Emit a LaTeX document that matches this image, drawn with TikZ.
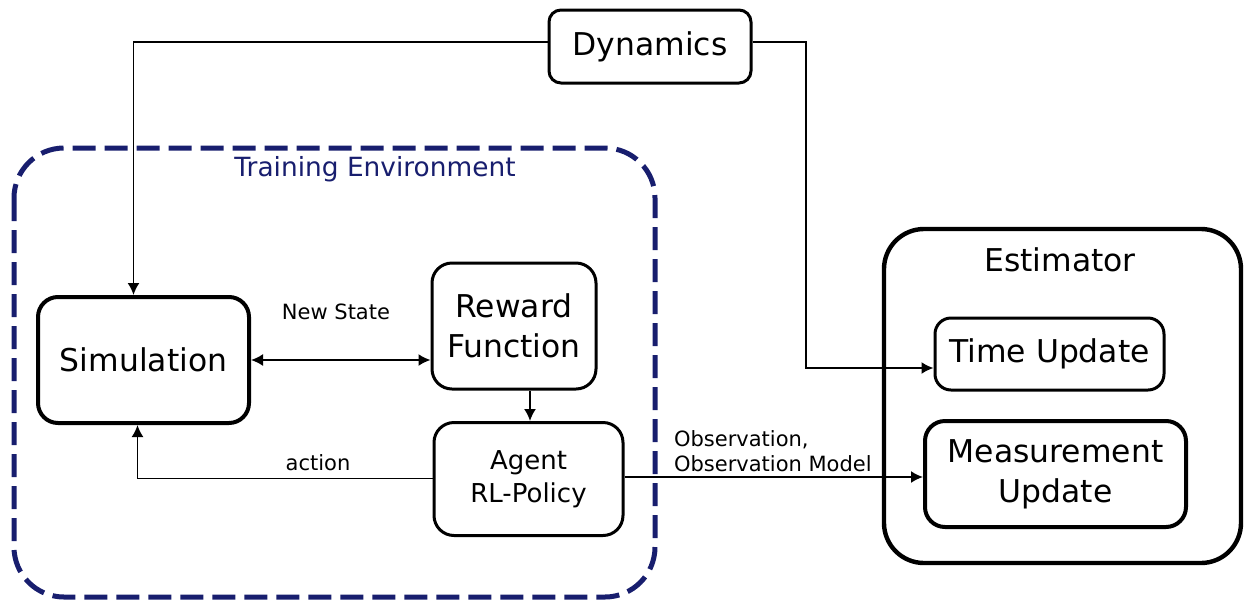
\documentclass[tikz,border=0pt]{standalone}
\usepackage{fontspec}
\setmainfont{DejaVu Sans}
\usetikzlibrary{arrows.meta}
\definecolor{envblue}{RGB}{24,30,110}
\begin{document}
\begin{tikzpicture}[x=0.5pt,y=-0.5pt,
		box/.style={draw,rounded corners=#1,align=center,font=\fontsize{15.7}{20}\selectfont},
		box/.default=10pt,
		small/.style={font=\fontsize{10.5}{12.5}\selectfont},
		arr/.style={-{Latex[length=6pt,width=6pt]},line width=0.9pt}]
		\useasboundingbox (0,0) rectangle (1244,601);
		% training environment
		\draw[envblue,line width=2.5pt,dash pattern=on 11.5pt off 4.5pt,rounded corners=25pt] (14,148) rectangle (655,597);
		\node[envblue,font=\fontsize{13.2}{16}\selectfont] (envlabel) at (375,169) {Training Environment};
		\node [box=6pt,line width=1.5pt,minimum width=101pt,minimum height=36.5pt] (dyn) at (650,46.5) {Dynamics};
		\node [box,line width=2pt,minimum width=105.5pt,minimum height=63pt] (sim) at (143.5,360) {Simulation};
		\node [box,line width=1.5pt,minimum width=82pt,minimum height=63pt] (rew) at (514,326) {Reward\\Function};
		\node [box,line width=1.5pt,minimum width=94.5pt,minimum height=56.5pt,font=\fontsize{13}{16.5}\selectfont] (agent) at (528.5,479) {Agent\\RL-Policy};
		% estimator
		\node [box=20pt,line width=2.2pt,minimum width=178.5pt,minimum height=167pt] (est) at (1062.5,396) {};
		\node [font=\fontsize{15.7}{20}\selectfont] (estlabel) at (1060,260) {Estimator};
		\node [box=8pt,line width=1.5pt,minimum width=114.5pt,minimum height=36pt] (tu) at (1049.5,354) {Time Update};
		\node [box,line width=2pt,minimum width=130.5pt,minimum height=53pt] (meas) at (1055.5,474) {Measurement\\Update};
		% connectors
		\coordinate (bend) at (806,42);
		\draw[arr] ([yshift=2.25pt]dyn.west) -| ([xshift=-5pt]sim.north);
		\draw[arr] ([yshift=2.25pt]dyn.east) -- (bend) |- ([yshift=-7pt]tu.west);
		\draw[arr,{Latex[length=6pt,width=6pt]}-{Latex[length=6pt,width=6pt]}] (sim.east) -- (sim.east -| rew.west);
		\node[small] (newstate) at (336,312) {New State};
		\draw[arr] (rew.south -| 530,0) -- (agent.north -| 530,0);
		\draw[arr] ([yshift=0.25pt]agent.west) -| ([xshift=-3pt]sim.south);
		\node[small] (action) at (318,463) {action};
		\draw[arr] ([yshift=1pt]agent.east) -- ([yshift=1pt]agent.east -| meas.west);
		\node[small,align=left,anchor=north west] (obs) at (667,423) {Observation,\\Observation Model};
	\end{tikzpicture}
\end{document}
